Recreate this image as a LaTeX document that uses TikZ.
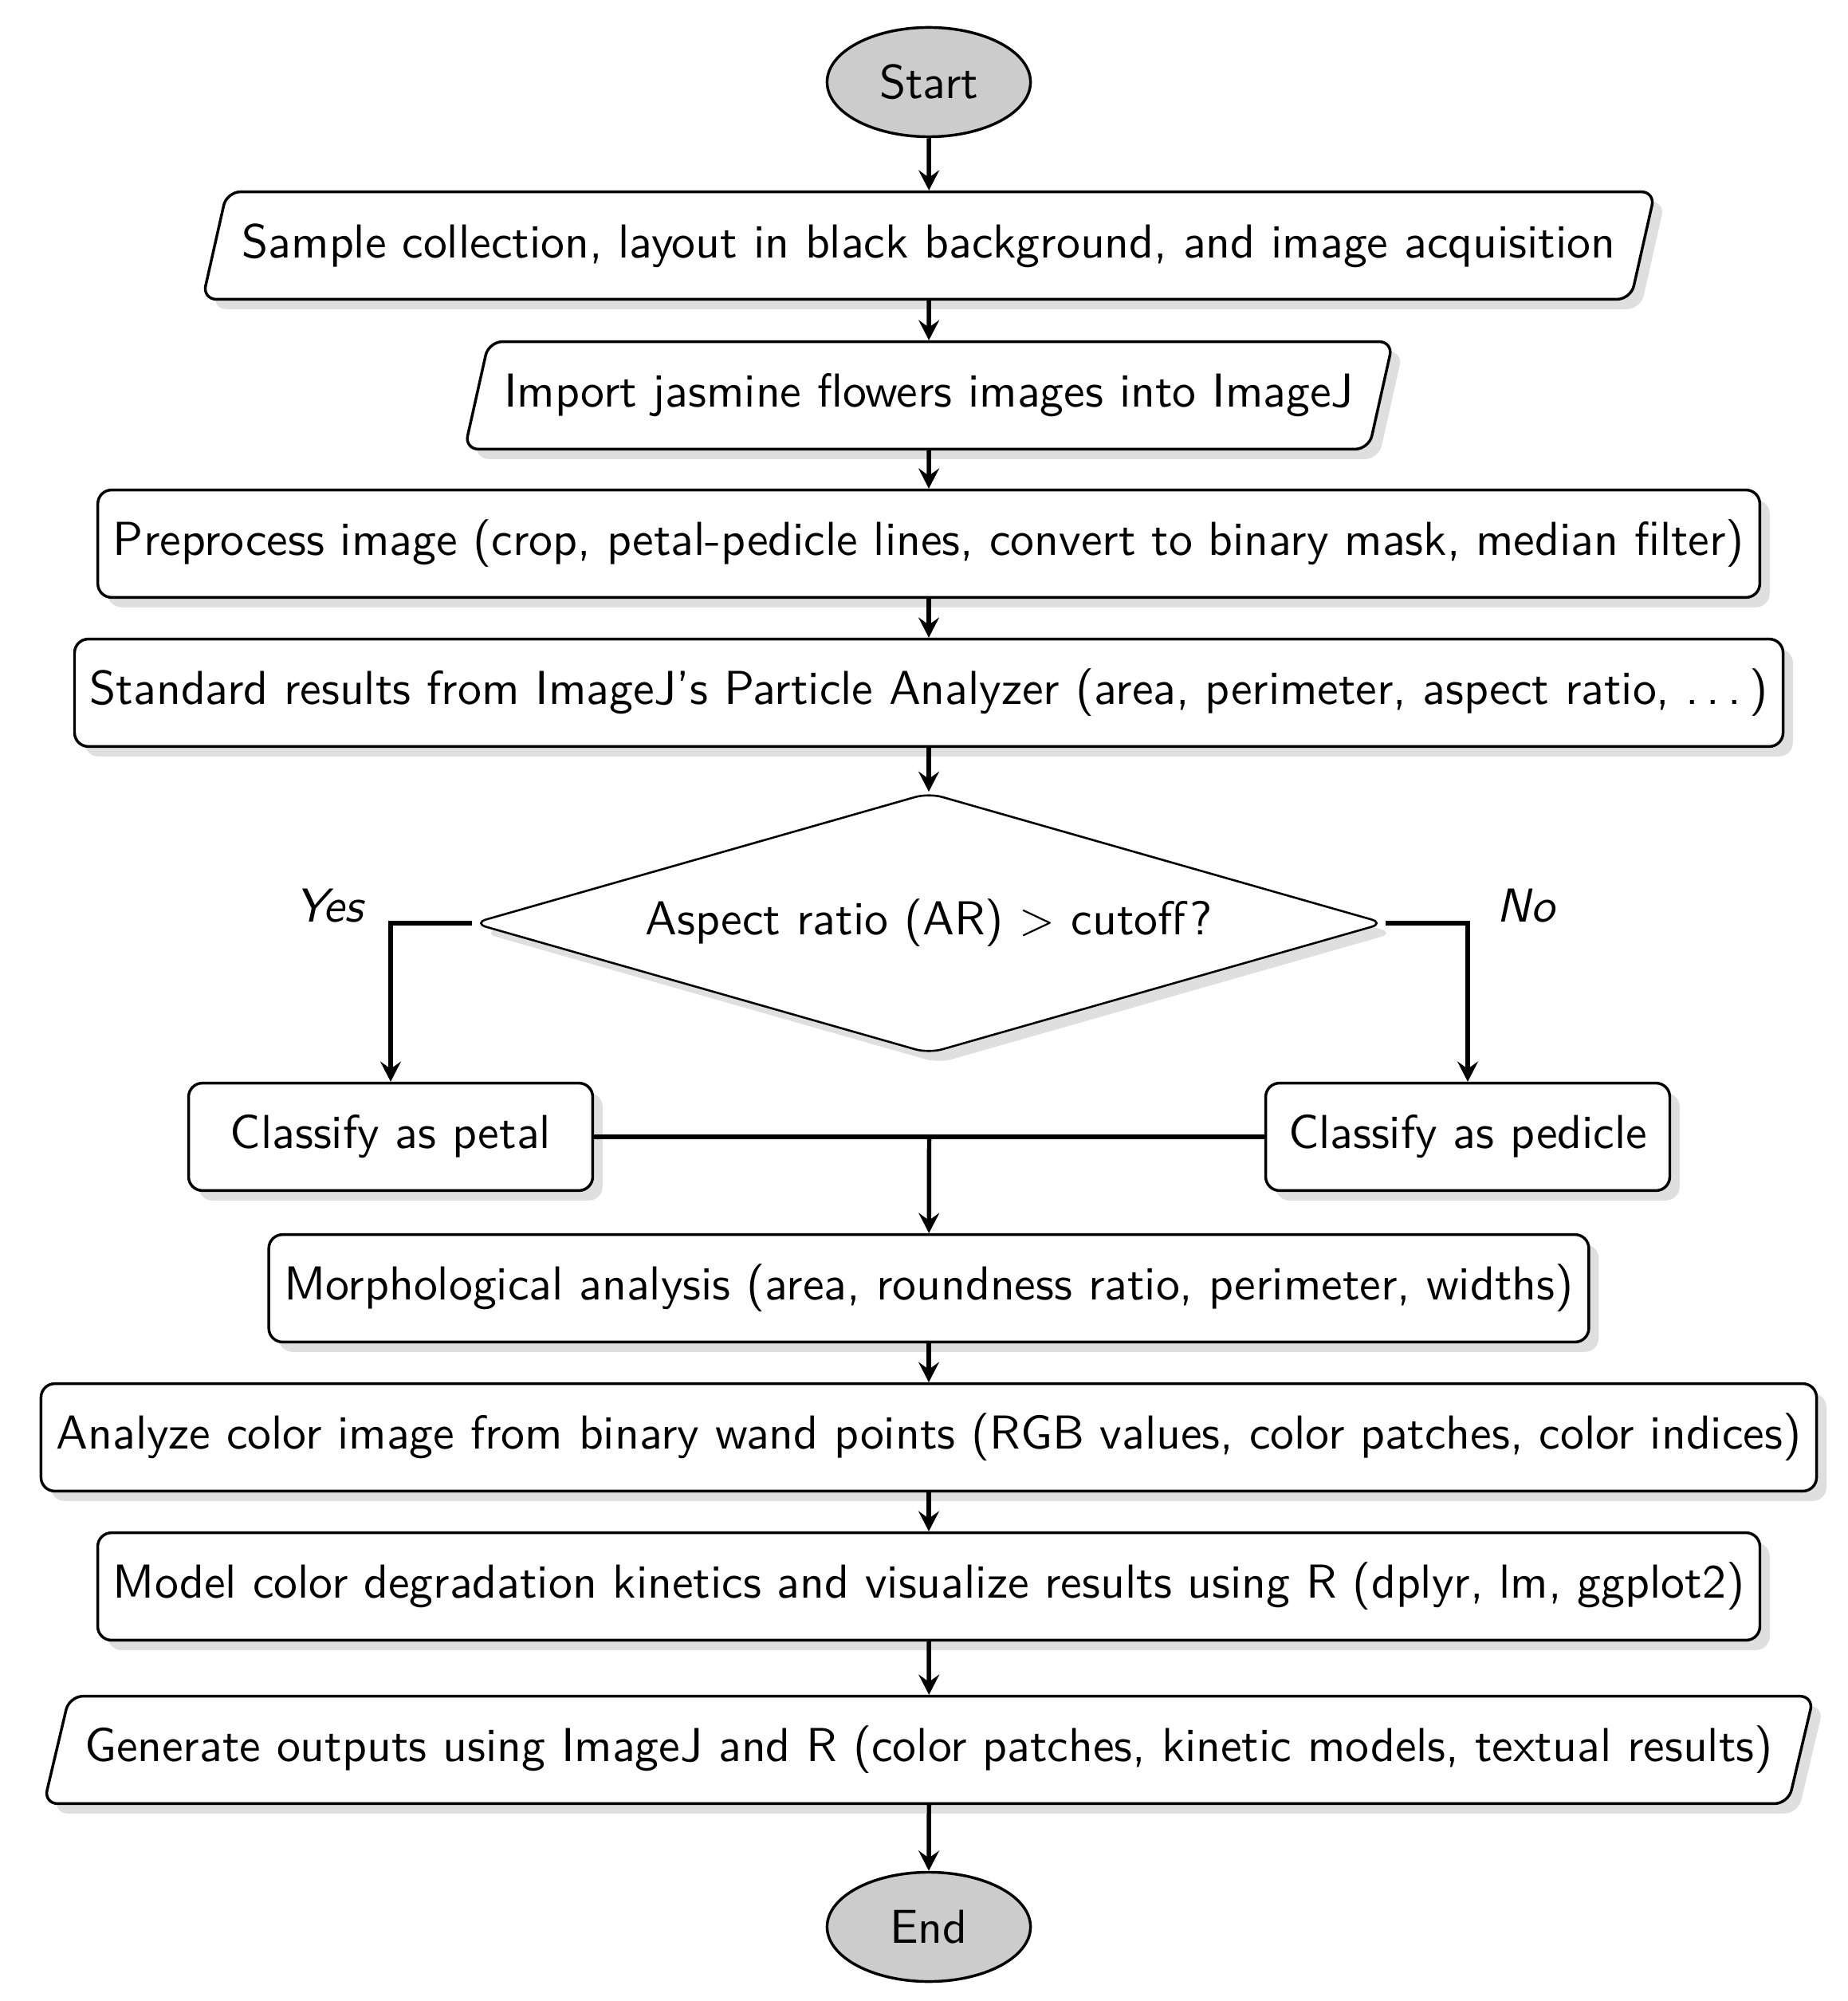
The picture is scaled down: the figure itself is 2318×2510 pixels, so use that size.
\documentclass[tikz,border=0pt]{standalone}
\usetikzlibrary{shapes.geometric, arrows.meta, shadows, calc}
\newcommand{\myfont}{\sffamily\fontsize{10.37}{12.4}\selectfont}
\newcommand{\mydots}{.\kern\fontdimen3\font.\kern\fontdimen3\font.\kern\fontdimen3\font}
\tikzset{
  base/.style={draw, line width=0.6pt, fill=white, font=\myfont, drop shadow={opacity=0.25}},
  io/.style={base, trapezium, trapezium left angle=72, trapezium right angle=108, rounded corners=3pt, minimum height=23.4pt, trapezium stretches body},
  proc/.style={base, rectangle, rounded corners=3pt, minimum height=23.4pt},
  term/.style={ellipse, draw, line width=0.6pt, fill=black!20, font=\myfont, minimum width=44.3pt, minimum height=23.8pt},
  decision/.style={base, diamond, aspect=3.5, inner sep=0pt, minimum width=198.6pt, minimum height=56.8pt, rounded corners=3pt, line width=0.45pt},
  cls/.style={proc, minimum width=88pt},
  arr/.style={-{Stealth[length=4.4pt,width=4.5pt,inset=1.6pt]}, line width=0.95pt},
  conn/.style={line width=0.95pt},
  lbl/.style={font=\myfont\itshape}
}
\begin{document}
\begin{tikzpicture}[x=0.17361pt, y=-0.17361pt]
\useasboundingbox (0,0) rectangle (2318,2510);
\node[term] (start) at (1165,103) {Start};
\node[io] (b1) at (1165,308) {Sample collection, layout in black background, and image acquisition};
\node[io] (b2) at (1165,496) {Import jasmine flowers images into ImageJ};
\node[proc] (b3) at (1165,682) {Preprocess image (crop, petal-pedicle lines, convert to binary mask, median filter)};
\node[proc] (b4) at (1165,869) {Standard results from ImageJ's Particle Analyzer (area, perimeter, aspect ratio, \mydots)};
\node[decision] (dec) at (1165,1158) {Aspect ratio (AR) $>$ cutoff?};
\node[cls] (petal) at (490,1426) {Classify as petal};
\node[cls] (pedicle) at (1841,1426) {Classify as pedicle};
\node[proc] (morph) at (1165,1616) {Morphological analysis (area, roundness ratio, perimeter, widths)};
\node[proc] (analyze) at (1165,1803) {Analyze color image from binary wand points (RGB values, color patches, color indices)};
\node[proc] (model) at (1165,1990) {Model color degradation kinetics and visualize results using R (dplyr, lm, ggplot2)};
\node[io] (gen) at (1165,2195) {Generate outputs using ImageJ and R (color patches, kinetic models, textual results)};
\node[term] (end) at (1165,2417) {End};
\node[lbl] (yes) at (413,1136) {Yes};
\node[lbl] (no) at (1914,1136) {No};
\coordinate (m) at ($(petal.east)!0.5!(pedicle.west)$);
\draw[arr] (start) -- (b1);
\draw[arr] (b1) -- (b2);
\draw[arr] (b2) -- (b3);
\draw[arr] (b3) -- (b4);
\draw[arr] (b4) -- (dec);
\draw[arr] (dec.west) -| (petal.north);
\draw[arr] (dec.east) -| (pedicle.north);
\draw[conn] (petal.east) -- (pedicle.west);
\draw[arr] (m) -- (morph);
\draw[arr] (morph) -- (analyze);
\draw[arr] (analyze) -- (model);
\draw[arr] (model) -- (gen);
\draw[arr] (gen) -- (end);
\end{tikzpicture}
\end{document}
